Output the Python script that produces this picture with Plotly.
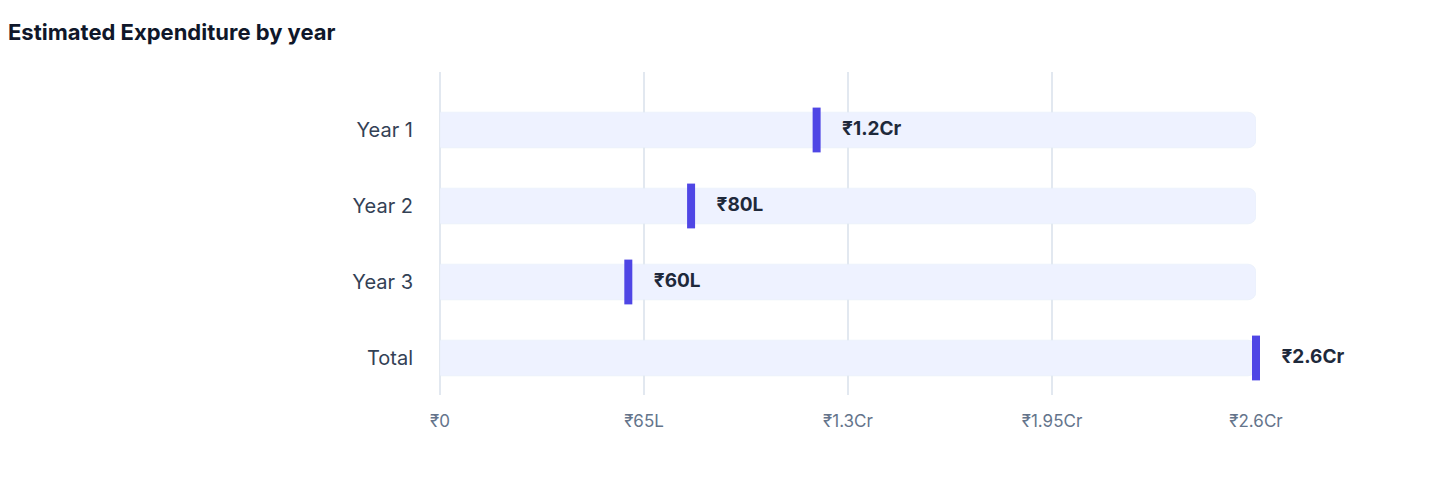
import plotly.graph_objects as go

categories = ["Year 1", "Year 2", "Year 3", "Total"]
values_lakh = [120, 80, 60, 260]
value_labels = ["₹1.2Cr", "₹80L", "₹60L", "₹2.6Cr"]
max_lakh = 260
tick_vals = [0, 65, 130, 195, 260]
tick_text = ["₹0", "₹65L", "₹1.3Cr", "₹1.95Cr", "₹2.6Cr"]

ypos = list(range(len(categories)))

fig = go.Figure()
fig.add_trace(go.Bar(
    y=ypos, x=[max_lakh] * len(categories), orientation="h",
    marker=dict(color="#eef2ff", cornerradius=8), width=0.47,
    hoverinfo="skip", showlegend=False))
fig.add_trace(go.Scatter(
    y=ypos, x=values_lakh, mode="markers+text",
    marker=dict(symbol="line-ns", size=32, line=dict(width=8, color="#4f46e5")),
    text=[" " + t for t in value_labels], textposition="middle right",
    textfont=dict(family="Inter, Noto Sans", size=19, color="#1e293b", weight="bold"),
    cliponaxis=False, hoverinfo="skip", showlegend=False))

fig.update_layout(
    width=1440, height=484,
    paper_bgcolor="white", plot_bgcolor="white",
    margin=dict(l=432, r=192, t=64, b=97),
    title=dict(text="<b>Estimated Expenditure by year</b>", x=0, xref="container", xanchor="left",
               y=0.95, yref="container", yanchor="middle",
               font=dict(family="Inter, Noto Sans", size=22, color="#0f172a")),
    barmode="overlay",
    xaxis=dict(range=[0, max_lakh], tickvals=tick_vals, ticktext=tick_text,
               showgrid=True, gridcolor="#e2e8f0", gridwidth=1.5,
               zeroline=True, zerolinecolor="#e2e8f0", zerolinewidth=1.5,
               showline=False, ticks="", ticklabelstandoff=14,
               tickfont=dict(family="Inter, Noto Sans", size=17, color="#64748b")),
    yaxis=dict(range=[3.487, -0.763], tickvals=ypos, ticktext=categories,
               showgrid=False, zeroline=False, showline=False, ticks="",
               ticklabelstandoff=26,
               tickfont=dict(family="Inter, Noto Sans", size=20, color="#334155")),
)
fig.write_html("out.html")
